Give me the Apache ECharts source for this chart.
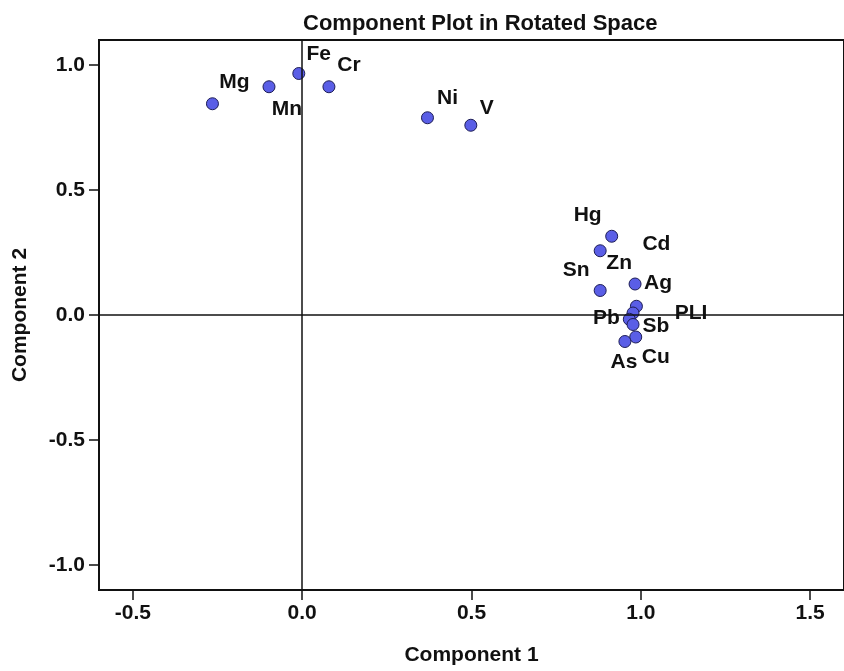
<!DOCTYPE html>
<html>
<head>
<meta charset="utf-8">
<script src="https://cdn.jsdelivr.net/npm/echarts@6/dist/echarts.min.js"></script>
<style>
  html, body { margin: 0; padding: 0; background: #fff; }
  #chart { width: 844px; height: 671px; }
</style>
</head>
<body>
<div id="chart"></div>
<script>
// loadings
var names = ['Mg', 'Mn', 'Fe', 'Cr', 'Ni', 'V', 'Hg', 'Zn', 'Sn', 'Ag', 'Cd', 'PLI', 'Pb', 'Sb', 'Cu', 'As'];
var comp1 = [-0.265, -0.098, -0.010, 0.079, 0.370, 0.498, 0.914, 0.880, 0.880, 0.983, 0.987, 0.977, 0.966, 0.977, 0.985, 0.953];
var comp2 = [0.845, 0.913, 0.966, 0.913, 0.789, 0.759, 0.315, 0.257, 0.098, 0.124, 0.035, 0.008, -0.017, -0.038, -0.088, -0.106];
var xTicks = [-0.5, 0.0, 0.5, 1.0, 1.5];
var yTicks = [-1.0, -0.5, 0.0, 0.5, 1.0];

// where each label sits relative to its point (px)
var labelShift = {
    Mg: [22, -22], Mn: [18, 22], Fe: [20, -19], Cr: [20, -22], Ni: [20, -20], V: [16, -17],
    Hg: [-24, -21], Zn: [19, 12], Sn: [-24, -20], Ag: [23, -1], Cd: [20, -62],
    PLI: [58, 0], Pb: [-23, -1], Sb: [23, 2], Cu: [20, 20], As: [-1, 21]
};

var font = 'Liberation Sans, Arial, sans-serif';
var ink = '#111';

var points = names.map(function (n, i) {
    return {
        name: n,
        value: [comp1[i], comp2[i]],
        label: { offset: labelShift[n] }
    };
});

var myChart = echarts.init(document.getElementById('chart'));
var option = {
    animation: false,
    title: {
        text: 'Component Plot in Rotated Space',
        left: 298,
        top: 8,
        textStyle: { fontFamily: font, fontSize: 22, fontWeight: 'bold', color: ink }
    },
    grid: {
        left: 99,
        right: -6,
        top: 40,
        bottom: 81,
        show: true,
        borderColor: '#111',
        borderWidth: 2
    },
    xAxis: {
        type: 'value',
        min: -0.6,
        max: 1.6,
        name: 'Component 1',
        nameLocation: 'middle',
        nameGap: 55,
        nameTextStyle: { fontFamily: font, fontSize: 21, fontWeight: 'bold', color: ink },
        axisLine: { show: true, onZero: false, lineStyle: { color: '#111', width: 2 } },
        axisTick: { show: true, length: 10, customValues: xTicks, lineStyle: { color: '#111', width: 1.5 } },
        axisLabel: {
            customValues: xTicks,
            margin: 13,
            fontFamily: font, fontSize: 21, fontWeight: 'bold', color: ink,
            formatter: function (v) { return v.toFixed(1); }
        },
        splitLine: { show: false }
    },
    yAxis: {
        type: 'value',
        min: -1.1,
        max: 1.1,
        name: 'Component 2',
        nameLocation: 'middle',
        nameGap: 68,
        nameTextStyle: { fontFamily: font, fontSize: 21, fontWeight: 'bold', color: ink },
        axisLine: { show: true, onZero: false, lineStyle: { color: '#111', width: 2 } },
        axisTick: { show: true, length: 10, customValues: yTicks, lineStyle: { color: '#111', width: 1.5 } },
        axisLabel: {
            customValues: yTicks,
            margin: 14,
            fontFamily: font, fontSize: 21, fontWeight: 'bold', color: ink,
            formatter: function (v) { return v.toFixed(1); }
        },
        splitLine: { show: false }
    },
    series: [
        {
            type: 'scatter',
            symbol: 'circle',
            symbolSize: 12,
            itemStyle: {
                color: '#5a5ee6',
                borderColor: '#1c1c55',
                borderWidth: 1,
                opacity: 1
            },
            label: {
                show: true,
                position: 'inside',
                formatter: '{b}',
                fontFamily: font,
                fontSize: 21,
                fontWeight: 'bold',
                color: ink
            },
            markLine: {
                silent: true,
                symbol: 'none',
                label: { show: false },
                lineStyle: { color: '#111', width: 1.5, type: 'solid' },
                data: [{ xAxis: 0 }, { yAxis: 0 }]
            },
            data: points,
            z: 3
        }
    ]
};

myChart.setOption(option);
</script>
</body>
</html>
